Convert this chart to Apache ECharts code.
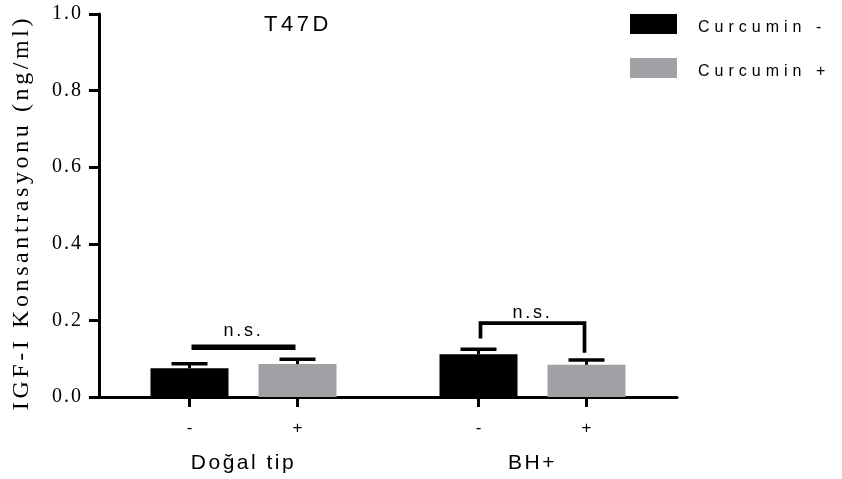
<!DOCTYPE html>
<html>
<head>
<meta charset="utf-8">
<script src="https://cdn.jsdelivr.net/npm/echarts@6/dist/echarts.min.js"></script>
<style>html,body{margin:0;padding:0;background:#fff}#c{width:842px;height:479px}</style>
</head>
<body>
<div id="c"></div>
<script>
// ---------- data ----------
const groups = ['Doğal tip', 'BH+'];
const seriesNames = ['Curcumin -', 'Curcumin +'];
const curcuminMinus = [0.075, 0.1115];
const curcuminPlus = [0.086, 0.084];
const errMinus = [0.012, 0.013];
const errPlus = [0.0125, 0.0123];
const treatmentTicks = ['-', '+'];
const sigLabels = ['n.s.', 'n.s.'];
const sigBarY = [0.130, 0.193];
const sigLeftY = [0.130, 0.153];
const sigRightY = [0.130, 0.1157];
const sigTextY = [0.172, 0.218];
const yTitle = 'IGF-I Konsantrasyonu (ng/ml)';
const chartTitle = 'T47D';

// ---------- letter spacing (text drawn wide like the reference) ----------
const LETTER_SPACING = { 'serif-20': 2, 'serif-24': 3.6, 'sans-22': 3.5, 'sans-16': 5, 'sans-21': 2.5, 'sans-18': 2.75 };
(function () {
  const proto = window.CanvasRenderingContext2D && CanvasRenderingContext2D.prototype;
  if (!proto || !('letterSpacing' in proto)) return;
  const d = Object.getOwnPropertyDescriptor(proto, 'font');
  if (!d || !d.set) return;
  function spacingFor(f) {
    const m = /(\d+(?:\.\d+)?)px/.exec(f);
    if (!m) return 0;
    const key = (/Liberation Serif/.test(f) ? 'serif-' : 'sans-') + m[1];
    return LETTER_SPACING[key] || 0;
  }
  Object.defineProperty(proto, 'font', {
    configurable: true,
    enumerable: d.enumerable,
    get: function () { return d.get.call(this); },
    set: function (v) { d.set.call(this, v); try { this.letterSpacing = spacingFor(String(v)) + 'px'; } catch (e) {} }
  });
})();

// ---------- layout ----------
const W = 842;
const GRID = { left: 99, right: 165, top: 14, bottom: 82 };
const BAR_W = 78, BAR_GAP_PX = 30;
const OFFSET_PX = (BAR_W + BAR_GAP_PX) / 2;
const BAND_PX = (W - GRID.left - GRID.right) / groups.length;
const OFF = OFFSET_PX / BAND_PX;
const CAP_W = 36;
const SIG_LINE_W = [5.5, 3.7];
const SIG_INSET = 2;
const SANS = 'Liberation Sans', SERIF = 'Liberation Serif';
// legend swatch 47x20 sitting in the top of a 47x28 item box
const LEGEND_ICON = 'path://M0,0H47V20H0Z M0,28L0,28';

const tickVals = [];
groups.forEach((g, i) => { tickVals.push(i - OFF, i + OFF); });

function errRender(sign) {
  return function (params, api) {
    const ci = api.value(0), mean = api.value(1), err = api.value(2);
    const base = api.coord([ci, mean]);
    const top = api.coord([ci, mean + err]);
    const x = base[0] + sign * OFFSET_PX;
    return {
      type: 'group',
      children: [
        { type: 'line', shape: { x1: x, y1: base[1], x2: x, y2: top[1] }, style: { stroke: '#000', lineWidth: 3 } },
        { type: 'line', shape: { x1: x - CAP_W / 2, y1: top[1], x2: x + CAP_W / 2, y2: top[1] }, style: { stroke: '#000', lineWidth: 3.5 } }
      ]
    };
  };
}

function sigRender(params, api) {
  const i = params.dataIndex;
  const ci = api.value(0);
  const yBar = api.coord([ci, api.value(1)])[1];
  const yL = api.coord([ci, api.value(2)])[1];
  const yR = api.coord([ci, api.value(3)])[1];
  const yT = api.coord([ci, api.value(4)])[1];
  const cx = api.coord([ci, 0])[0];
  const xL = cx - OFFSET_PX + SIG_INSET, xR = cx + OFFSET_PX - SIG_INSET;
  return {
    type: 'group',
    children: [
      { type: 'polyline', shape: { points: [[xL, yL], [xL, yBar], [xR, yBar], [xR, yR]] },
        style: { stroke: '#000', lineWidth: SIG_LINE_W[i], fill: null, lineJoin: 'miter' } },
      { type: 'text', style: { x: cx, y: yT, text: sigLabels[i], font: '18px "' + SANS + '"', fill: '#000',
        textAlign: 'center', textVerticalAlign: 'middle' } }
    ]
  };
}

const chart = echarts.init(document.getElementById('c'), null, { renderer: 'canvas' });
chart.setOption({
  animation: false,
  backgroundColor: '#fff',
  title: {
    text: chartTitle, left: 298, top: 12, textAlign: 'center', padding: 0,
    textStyle: { fontFamily: SANS, fontSize: 22, fontWeight: 'normal', color: '#000' }
  },
  legend: {
    data: seriesNames, orient: 'vertical', left: 630, top: 14, padding: 0,
    itemWidth: 47, itemHeight: 28, itemGap: 16, icon: LEGEND_ICON,
    textStyle: { fontFamily: SANS, fontSize: 16, color: '#000', padding: [0, 0, 0, 16] }
  },
  grid: { left: GRID.left, right: GRID.right, top: GRID.top, bottom: GRID.bottom, containLabel: false },
  xAxis: [
    {
      type: 'category', data: groups, position: 'bottom',
      axisLine: { onZero: false, lineStyle: { color: '#000', width: 3 } },
      axisTick: { show: false },
      axisLabel: { margin: 54, fontFamily: SANS, fontSize: 21, color: '#000' },
      splitLine: { show: false }
    },
    {
      type: 'value', position: 'bottom', min: -0.5, max: groups.length - 0.5,
      axisLine: { show: false, onZero: false },
      axisTick: { show: true, customValues: tickVals, length: 10, lineStyle: { color: '#000', width: 3 } },
      axisLabel: {
        customValues: tickVals, margin: 23, fontFamily: SANS, fontSize: 17, color: '#000',
        formatter: function (v) { return v < Math.round(v) ? treatmentTicks[0] : treatmentTicks[1]; }
      },
      splitLine: { show: false }
    }
  ],
  yAxis: {
    type: 'value', min: 0, max: 1, interval: 0.2, position: 'left',
    name: yTitle, nameLocation: 'middle', nameGap: 63,
    nameTextStyle: { fontFamily: SERIF, fontSize: 24, color: '#000', padding: [0, 14, 0, 0] },
    axisLine: { show: true, onZero: false, lineStyle: { color: '#000', width: 3 } },
    axisTick: { show: true, length: 10, lineStyle: { color: '#000', width: 3 } },
    axisLabel: { margin: 16, fontFamily: SERIF, fontSize: 20, color: '#000', formatter: v => v.toFixed(1) },
    splitLine: { show: false }
  },
  series: [
    { name: seriesNames[0], type: 'bar', xAxisIndex: 0, data: curcuminMinus, barWidth: BAR_W,
      barGap: (BAR_GAP_PX / BAR_W * 100).toFixed(2) + '%', itemStyle: { color: '#000' } },
    { name: seriesNames[1], type: 'bar', xAxisIndex: 0, data: curcuminPlus, barWidth: BAR_W,
      itemStyle: { color: '#a1a1a5' } },
    { type: 'custom', xAxisIndex: 0, z: 3, renderItem: errRender(-1), silent: true,
      data: groups.map((g, i) => [i, curcuminMinus[i], errMinus[i]]) },
    { type: 'custom', xAxisIndex: 0, z: 3, renderItem: errRender(1), silent: true,
      data: groups.map((g, i) => [i, curcuminPlus[i], errPlus[i]]) },
    { type: 'custom', xAxisIndex: 0, z: 4, renderItem: sigRender, silent: true,
      data: groups.map((g, i) => [i, sigBarY[i], sigLeftY[i], sigRightY[i], sigTextY[i]]) }
  ]
});
</script>
</body>
</html>
